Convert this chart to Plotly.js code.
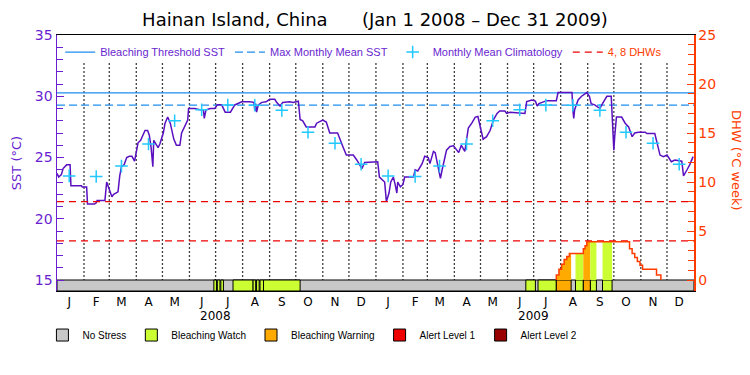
<!DOCTYPE html>
<html><head><meta charset="utf-8">
<script src="https://cdn.plot.ly/plotly-3.0.1.min.js"></script>
<style>html,body{margin:0;padding:0;background:#fff}#chart{width:750px;height:375px}</style>
</head><body><div id="chart"></div>
<script>
// Day numbers count from 2008-01-01 (day 0)
const sstDay = [0,2,5,7,11,15,16,28,29,34,35,43,45,46,55,57,59,61,63,65,70,72,74,77,80,83,86,89,91,93,96,101,104,106,108,110,111,116,118,122,124,127,130,132,134,137,141,143,146,150,151,158,164,168,169,171,176,181,184,189,193,199,204,212,221,226,227,228,229,231,235,240,244,250,252,256,259,267,271,277,279,282,286,296,298,305,309,313,322,325,328,332,340,344,350,353,368,
370,374,376,378,380,381,383,386,388,390,391,394,397,399,409,411,414,419,422,426,428,432,434,438,440,442,447,451,455,461,464,468,470,472,476,480,483,487,489,493,497,501,505,508,514,516,520,537,539,545,549,551,553,562,573,575,591,592,593,594,598,602,608,611,613,617,623,626,631,636,638,639,640,642,648,652,656,660,663,667,675,677,686,688,692,696,700,705,709,717,719,723,726,730];
const sstVal = [23.7,23.4,23.6,24.1,24.4,24.4,22.7,22.7,22.6,22.6,21.2,21.2,21.3,21.5,21.5,23.0,22.6,22.1,21.8,22.0,22.2,23.5,24.25,24.4,25.0,25.1,25.1,24.7,25.4,26.2,26.4,27.2,27.2,26.8,25.8,24.25,26.4,25.8,26.1,27.0,27.8,28.3,27.8,27.2,26.5,26.0,26.0,27.0,27.5,28.06,29.0,29.0,28.9,28.9,28.2,28.9,29.0,29.0,29.3,29.3,28.7,28.7,29.29,29.55,29.55,29.5,28.8,29.4,28.7,29.3,29.5,29.55,29.75,29.75,29.5,29.2,29.5,29.55,29.5,29.6,28.1,28.0,27.5,27.5,27.8,28.06,27.9,27.0,27.0,26.4,25.9,25.2,25.2,24.8,24.1,24.6,24.66,
23.4,23.16,23.0,21.4,21.9,22.1,23.0,23.4,22.8,22.1,23.0,22.6,22.8,23.4,23.4,24.0,23.9,24.5,25.1,25.0,24.5,25.5,25.4,23.84,23.3,24.0,25.6,25.9,25.95,25.4,26.0,25.5,26.4,27.4,27.8,28.3,28.35,27.2,26.5,26.7,27.2,28.1,28.6,28.8,28.8,28.6,28.7,28.6,29.56,29.7,29.6,29.2,29.4,29.64,29.64,30.3,30.3,28.9,28.2,28.9,29.7,30.0,30.3,30.0,29.4,29.3,29.0,29.4,30.0,30.0,27.1,25.6,26.7,28.3,28.3,27.8,27.5,26.7,27.0,27.06,27.06,26.95,26.95,26.4,25.2,25.07,25.2,24.66,24.8,24.7,23.5,24.0,24.4,25.07];

const monthLetters = ['J','F','M','A','M','J','J','A','S','O','N','D'];
const climatology = [23.5,23.45,24.3,26.1,28.0,28.9,29.28,29.27,28.85,27.06,26.16,24.45];
const years = [2008, 2009];
const mmm = 29.28;
const bleachingThreshold = 30.28;
const dhwLevels = [4, 8];

const dhwDay = [573,573,576,579,582,585,588,604,606,608,657,660,663,666,669,672,688,693];
const dhwVal = [0,0.5,1.1,1.6,2.1,2.4,2.7,3.2,3.5,3.9,3.2,2.7,2.3,1.9,1.5,1.1,0.5,0];

const stressStart = [180,184,188,202,225,229,233,237,538,552,573,595,604,612,626];
const stressEnd   = [183,187,191,225,228,232,237,279,549,573,590,604,612,619,637];
const stressLevel = [1,1,1,1,1,1,1,1,1,1,2,1,2,1,1];
const stressNames = ['No Stress','Bleaching Watch','Bleaching Warning','Alert Level 1','Alert Level 2'];

// styles
const stressColors = ['#c8c8c8','#ccff33','#ffaa00','#ee0000','#990000'];
const PURPLE = '#6a1fd0', SSTLINE = '#5a10c0', BLUE = '#1e8ef0', CYAN = '#22c8ff', ORANGE = '#ff3c00', RED = '#ee0000';
const PERIOD_START = 0, PERIOD_END = 731;
const SST_MIN = 14.102, DHW_MIN = -1.122;

const T0 = Date.UTC(2008,0,1);
const toDate = d => new Date(T0 + d*864e5).toISOString().slice(0,19).replace('T',' ');
const dayMs = 864e5;

const monthStarts = [], midMonths = [], midLetters = [], climX = [], climY = [];
years.forEach(y => {
  for (let m = 0; m < 12; m++) {
    if (!(y === years[0] && m === 0)) monthStarts.push(new Date(Date.UTC(y,m,1)).toISOString().slice(0,10));
    const mid = new Date(Date.UTC(y,m,15)).toISOString().slice(0,10);
    midMonths.push(mid); midLetters.push(monthLetters[m]);
    climX.push(mid); climY.push(climatology[m]);
  }
});

function dhwAt(d) {
  let v = 0;
  for (let i = 0; i < dhwDay.length; i++) if (dhwDay[i] <= d) v = dhwVal[i];
  return v;
}

const traces = [];
// stress bar
stressNames.forEach((name, L) => {
  let xs = [], ws = [];
  if (L === 0) { xs = [toDate((PERIOD_START+PERIOD_END)/2)]; ws = [(PERIOD_END-PERIOD_START)*dayMs]; }
  else {
    stressLevel.forEach((lv, i) => { if (lv === L) { xs.push(toDate((stressStart[i]+stressEnd[i])/2)); ws.push((stressEnd[i]-stressStart[i])*dayMs); } });
  }
  const n = xs.length;
  traces.push({
    type:'bar', name, legend:'legend2', yaxis:'y2',
    x: n ? xs : [null], y: n ? xs.map(() => -DHW_MIN) : [null], base: n ? xs.map(() => DHW_MIN) : [null],
    width: n ? ws : undefined,
    marker:{color:stressColors[L], line:{color:'#000', width:1}},
    hoverinfo:'skip'
  });
});

// dotted month boundaries
const dotX = [], dotY = [];
monthStarts.forEach(d => { dotX.push(d, d, null); dotY.push(32.7, 15, null); });
traces.push({type:'scatter', mode:'lines', x:dotX, y:dotY, line:{color:'#000', width:1.3, dash:'1.5px,2.5px'}, showlegend:false, hoverinfo:'skip'});

// threshold & MMM
traces.push({type:'scatter', mode:'lines', name:'Bleaching Threshold SST', legendrank:1,
  x:[toDate(PERIOD_START), toDate(PERIOD_END)], y:[bleachingThreshold, bleachingThreshold],
  line:{color:BLUE, width:1.2}, hoverinfo:'skip'});
traces.push({type:'scatter', mode:'lines', name:'Max Monthly Mean SST', legendrank:2,
  x:[toDate(PERIOD_START), toDate(PERIOD_END)], y:[mmm, mmm],
  line:{color:BLUE, width:1.2, dash:'8px,4px'}, hoverinfo:'skip'});

// DHW 4, 8 lines
const dlX = [], dlY = [];
dhwLevels.forEach(v => { dlX.push(toDate(PERIOD_START), toDate(PERIOD_END), null); dlY.push(v, v, null); });
traces.push({type:'scatter', mode:'lines', name:'<span style="color:'+ORANGE+'">4, 8 DHWs</span>', legendrank:4, yaxis:'y2',
  x:dlX, y:dlY, line:{color:RED, width:1.2, dash:'7px,5px'}, hoverinfo:'skip'});

// DHW coloured fill by stress level
stressLevel.forEach((lv, i) => {
  const s = stressStart[i], e = stressEnd[i];
  const xs = [s], ys = [dhwAt(s)];
  dhwDay.forEach(dd => { if (dd > s && dd < e) { xs.push(dd); ys.push(dhwAt(dd)); } });
  xs.push(e); ys.push(dhwAt(e - 1e-6));
  if (ys.some(v => v > 0)) {
    traces.push({type:'scatter', mode:'lines', yaxis:'y2', x:xs.map(toDate), y:ys,
      line:{width:0, shape:'hv'}, fill:'tozeroy', fillcolor:stressColors[lv], showlegend:false, hoverinfo:'skip'});
  }
});
// DHW line
traces.push({type:'scatter', mode:'lines', yaxis:'y2', x:dhwDay.map(toDate), y:dhwVal,
  line:{color:ORANGE, width:1.5, shape:'hv'}, showlegend:false, hoverinfo:'skip'});

// SST
traces.push({type:'scatter', mode:'lines', x:sstDay.map(toDate), y:sstVal,
  line:{color:SSTLINE, width:1.5}, showlegend:false, hoverinfo:'skip'});
// climatology
traces.push({type:'scatter', mode:'markers', name:'Monthly Mean Climatology', legendrank:3, x:climX, y:climY,
  marker:{symbol:'cross-thin', size:9, color:CYAN, line:{color:CYAN, width:1.5}}, hoverinfo:'skip'});

const yMinor = [], y2Minor = [];
for (let v = 15; v <= 35; v++) if (v % 5) yMinor.push(v);
for (let v = 0; v <= 25; v++) if (v % 5) y2Minor.push(v);

const layout = {
  width:750, height:375,
  margin:{l:57, r:56, t:35, b:84, pad:0},
  paper_bgcolor:'#fff', plot_bgcolor:'#fff',
  font:{family:'"Liberation Sans", Arial, sans-serif', size:12, color:'#000'},
  title:{text:'Hainan Island, China\u00a0\u00a0\u00a0\u00a0\u00a0\u00a0(Jan 1 2008 \u2013 Dec 31 2009)',
    x:0.5, xanchor:'center', y:0.947, yanchor:'middle', font:{family:'"DejaVu Sans", sans-serif', size:18, color:'#000'}},
  barmode:'overlay',
  showlegend:true,
  xaxis:{type:'date', range:[toDate(PERIOD_START), toDate(PERIOD_END)], tickmode:'array', tickvals:midMonths, ticktext:midLetters,
    ticks:'', showgrid:false, zeroline:false, showline:true, linecolor:'#000', linewidth:1, mirror:true,
    tickfont:{family:'"DejaVu Sans", sans-serif', size:12, color:'#000'}},
  yaxis:{range:[SST_MIN, 35.001], tickmode:'array', tickvals:[15,20,25,30,35], ticks:'inside', ticklen:7, tickcolor:PURPLE, tickwidth:1,
    showline:true, linecolor:PURPLE, linewidth:1.5, showgrid:false, zeroline:false,
    tickfont:{family:'"DejaVu Sans", sans-serif', size:14, color:PURPLE},
    title:{text:'SST (\u00b0C)', font:{family:'"DejaVu Sans", sans-serif', size:13, color:PURPLE}, standoff:10},
    minor:{tickmode:'array', tickvals:yMinor, ticks:'inside', ticklen:6, tickcolor:PURPLE, showgrid:false}},
  yaxis2:{overlaying:'y', side:'right', range:[DHW_MIN, 25.001], tickmode:'array', tickvals:[0,5,10,15,20,25], ticks:'inside', ticklen:7, tickcolor:ORANGE,
    showline:true, linecolor:ORANGE, linewidth:1.5, showgrid:false, zeroline:false,
    tickfont:{family:'"DejaVu Sans", sans-serif', size:14, color:ORANGE},
    minor:{tickmode:'array', tickvals:y2Minor, ticks:'inside', ticklen:6, tickcolor:ORANGE, showgrid:false}},
  legend:{orientation:'h', x:0.005, xanchor:'left', y:0.99, yanchor:'top', bgcolor:'rgba(0,0,0,0)', borderwidth:0,
    font:{family:'"Liberation Sans", Arial, sans-serif', size:11, color:PURPLE}},
  legend2:{orientation:'h', x:0.401, xanchor:'center', y:-0.172, yanchor:'middle', bgcolor:'rgba(0,0,0,0)',
    font:{family:'"Liberation Sans", Arial, sans-serif', size:10, color:'#000'}},
  annotations: years.map(y => ({xref:'x', yref:'paper', x:y+'-07-01', y:-0.097, yanchor:'middle', text:String(y), showarrow:false,
      font:{family:'"DejaVu Sans", sans-serif', size:12, color:'#000'}}))
    .concat([{xref:'paper', yref:'paper', x:1.066, y:0.512, xanchor:'center', yanchor:'middle', text:'DHW (\u00b0C week)', textangle:90, showarrow:false,
      font:{family:'"DejaVu Sans", sans-serif', size:13, color:ORANGE}}])
};

Plotly.newPlot('chart', traces, layout, {staticPlot:true, displayModeBar:false});
</script>
</body></html>
